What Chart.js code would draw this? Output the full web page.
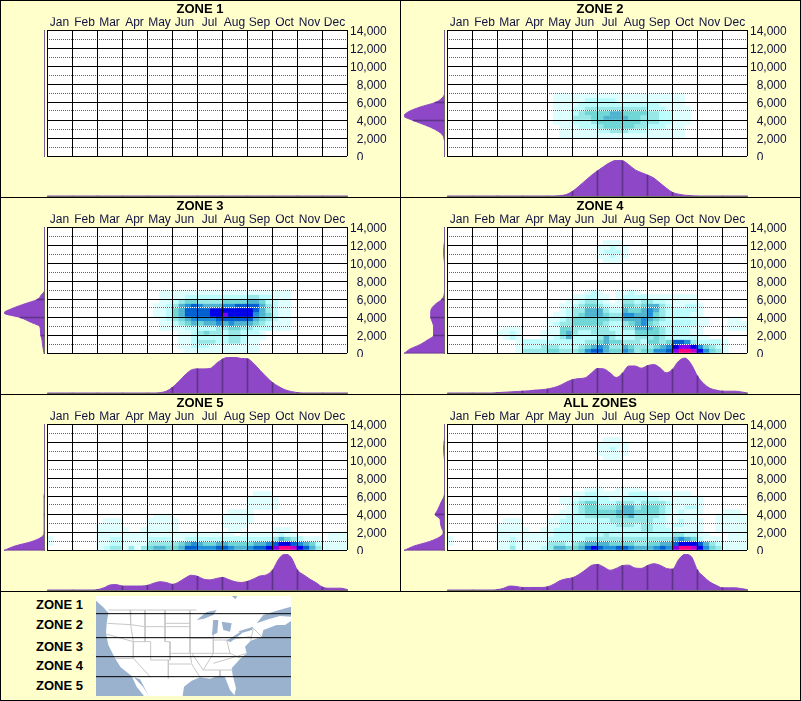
<!DOCTYPE html>
<html>
<head>
<meta charset="utf-8">
<title>Zones by month</title>
<script src="https://cdn.jsdelivr.net/npm/chart.js@4"></script>
<style>
  html, body { margin: 0; padding: 0; background: #fff; }
  #page { position: relative; width: 801px; height: 701px; background: #FFFFCC; overflow: hidden; font-family: "Liberation Sans", Arial, sans-serif; }
  #page canvas { position: absolute; }
  .rule { position: absolute; background: #000; }
  .zoneName { position: absolute; left: 36px; font: bold 13px "Liberation Sans", Arial, sans-serif; color: #000; line-height: 14px; }
</style>
</head>
<body>
<div id="page"></div>
<script>
const months = ['Jan', 'Feb', 'Mar', 'Apr', 'May', 'Jun', 'Jul', 'Aug', 'Sep', 'Oct', 'Nov', 'Dec'];
const zoneTitles = ['ZONE 1', 'ZONE 2', 'ZONE 3', 'ZONE 4', 'ZONE 5', 'ALL ZONES'];
const legendNames = ['ZONE 1', 'ZONE 2', 'ZONE 3', 'ZONE 4', 'ZONE 5'];
const legendTops = [598, 618, 640, 659, 679];

// heat levels, 0 is empty
const heatColors = ['', '#DFFFFF', '#BCFCFC', '#98E8E8', '#70D6D6', '#50B4D0', '#2090D8', '#0060D0', '#0000E8', '#8000F0', '#C000C8', '#FF0080'];

// one string per 500 band, bottom band first, 4 cells per month
const heatZone1 = [];
const heatZone2 = [
  '', '', '', '',
  '0000 0000 0000 0000 0011 1111 1111 1111 1111 1100 0000 0000',
  '0000 0000 0000 0000 0011 1111 2233 3222 1111 1100 0000 0000',
  '0000 0000 0000 0000 0011 1222 3444 4433 2221 1100 0000 0000',
  '0000 0000 0000 0000 0111 2223 4444 4443 3322 1110 0000 0000',
  '0000 0000 0000 0000 0111 3334 4555 5443 3322 1110 0000 0000',
  '0000 0000 0000 0000 0111 2344 4455 4444 3322 1110 0000 0000',
  '0000 0000 0000 0000 0111 2233 3333 3333 2221 1110 0000 0000',
  '0000 0000 0000 0000 0111 1222 2222 2222 2211 1100 0000 0000',
  '0000 0000 0000 0000 0111 1122 2221 1111 1111 1100 0000 0000',
  '0000 0000 0000 0000 0111 1111 1111 1111 1111 1100 0000 0000'
];
const heatZone3 = [
  '0000 0000 0000 0000 0000 0011 1111 1111 1100 0000 0000 0000',
  '0000 0000 0000 0000 0000 0112 2211 1111 1100 0000 0000 0000',
  '0000 0000 0000 0000 0000 0112 3332 2332 1100 0000 0000 0000',
  '0000 0000 0000 0000 0000 0112 2222 2332 1110 0000 0000 0000',
  '0000 0000 0000 0000 0000 0112 3433 2332 2210 0000 0000 0000',
  '0000 0000 0000 0000 0011 1122 2223 3443 3222 1110 0000 0000',
  '0000 0000 0000 0000 0011 2345 4556 5655 5432 1110 0000 0000',
  '0000 0000 0000 0000 0012 3456 6667 7777 7543 2110 0000 0000',
  '0000 0000 0000 0000 0112 4577 7788 9888 8654 2110 0000 0000',
  '0000 0000 0000 0000 0112 4577 7788 8888 8753 2110 0000 0000',
  '0000 0000 0000 0000 0112 3567 6555 6677 7753 2110 0000 0000',
  '0000 0000 0000 0000 0011 2344 3333 4444 5542 2110 0000 0000',
  '0000 0000 0000 0000 0011 1122 2222 2222 3322 1110 0000 0000',
  '0000 0000 0000 0000 0011 1111 1111 1111 1111 1110 0000 0000'
];
const heatZone4 = [
  '0000 0000 0001 3333 4433 3467 7544 6534 4667 9BBA 8643 1000',
  '0000 0000 0001 2223 3322 2345 6533 5433 3456 8998 6432 1000',
  '0000 0000 0001 2222 2222 2233 4544 3332 4434 7763 2222 1000',
  '0000 0000 0121 0001 1235 2222 3532 2233 3432 2222 1100 0000',
  '0000 0000 1121 0001 1145 3223 3332 2244 4432 2221 1000 0000',
  '0000 0000 0111 0000 1144 3333 3322 3355 5432 2221 1000 0111',
  '0000 0000 0000 0000 1233 4444 4322 3456 4322 2222 1100 0111',
  '0000 0000 0000 0000 1123 4444 4433 5556 5432 2222 1100 0110',
  '0000 0000 0000 0000 0112 3455 5433 6655 6432 2221 1000 0000',
  '0000 0000 0000 0000 0012 3355 5322 5445 6532 2222 1000 0000',
  '0000 0000 0000 0000 0011 2344 3211 4434 5532 1122 1000 0000',
  '0000 0000 0000 0000 0001 1233 2101 3323 3221 1111 0000 0000',
  '0000 0000 0000 0000 0000 1122 1101 2222 1111 1111 0000 0000',
  '0000 0000 0000 0000 0000 0012 1001 1210 0000 0000 0000 0000',
  '', '', '', '', '', '',
  '0000 0000 0000 0000 0000 0000 0111 0000 0000 0000 0000 0000',
  '0000 0000 0000 0000 0000 0000 1121 1000 0000 0000 0000 0000',
  '0000 0000 0000 0000 0000 0000 1222 1000 0000 0000 0000 0000',
  '0000 0000 0000 0000 0000 0000 1121 1000 0000 0000 0000 0000',
  '0000 0000 0000 0000 0000 0000 0111 0000 0000 0000 0000 0000'
];
const heatZone5 = [
  '0000 0000 1233 1313 4554 4577 6667 7655 6778 9BBA 8753 1111',
  '1000 0000 1122 1111 3333 3456 5445 5444 4556 7887 6542 1111',
  '1000 0000 1122 1111 2222 1122 2222 2222 2222 3543 2111 0111',
  '0000 0000 1111 1111 1111 1111 1111 1101 1111 1211 0000 0111',
  '0000 0000 1111 1001 1111 1000 0000 0110 0000 1110 0000 0000',
  '0000 0000 1111 0000 1111 1000 0000 1111 0000 0000 0000 0000',
  '0000 0000 0111 0000 1111 1000 0000 1111 1000 0000 0000 0000',
  '0000 0000 0000 0000 0111 0000 0000 1111 1000 0000 0000 0000',
  '0000 0000 0000 0000 0000 0000 0000 0111 1000 0000 0000 0000',
  '0000 0000 0000 0000 0000 0000 0000 0000 1111 1000 0000 0000',
  '0000 0000 0000 0000 0000 0000 0000 0000 1111 1000 0000 0000',
  '0000 0000 0000 0000 0000 0000 0000 0000 1111 1000 0000 0000',
  '0000 0000 0000 0000 0000 0000 0000 0000 0111 0000 0000 0000'
];
const heatAll = [
  '0000 0000 1131 1112 3554 4578 7667 7655 5676 9BBA 8643 1111',
  '1000 0000 1121 1111 3332 3455 5544 4433 4455 7888 7532 1111',
  '1000 0000 1121 1111 2222 2233 3333 3333 3333 5654 2111 0111',
  '0000 0000 1111 1111 1222 2222 2322 2222 2222 3322 1100 0111',
  '0000 0000 1111 1001 1222 2222 2222 2223 3222 1111 1001 1111',
  '0000 0000 1111 0000 1122 2222 2223 3323 3221 2211 1001 1111',
  '0000 0000 0111 0000 1122 2222 2233 3333 3221 1211 1001 1111',
  '0000 0000 0000 0000 0112 2233 3334 4533 3321 1111 0001 1111',
  '0000 0000 0000 0000 0011 2344 4445 5544 4432 1211 1000 1110',
  '0000 0000 0000 0000 0001 2344 3334 5534 4432 1122 1000 0000',
  '0000 0000 0000 0000 0011 2344 2223 3323 3332 1111 1000 0000',
  '0000 0000 0000 0000 0011 1222 2211 2222 2211 1111 1000 0000',
  '0000 0000 0000 0000 0000 1122 1111 1222 1111 1110 0000 0000',
  '0000 0000 0000 0000 0000 0011 1001 1110 0000 0000 0000 0000',
  '', '', '', '', '', '',
  '0000 0000 0000 0000 0000 0000 0111 0000 0000 0000 0000 0000',
  '0000 0000 0000 0000 0000 0000 1111 1000 0000 0000 0000 0000',
  '0000 0000 0000 0000 0000 0000 1121 1000 0000 0000 0000 0000',
  '0000 0000 0000 0000 0000 0000 1111 1000 0000 0000 0000 0000',
  '0000 0000 0000 0000 0000 0000 0111 0000 0000 0000 0000 0000'
];

// month profile under each panel, 4 samples per month plus the last one
const monthProfile1 = [0,0,0,0, 0,0,0,0, 0,0,0,0, 0,0,0,0, 0,0,0,0, 0,0,0,0, 0,0,0,0, 0,0,0,0, 0,0,0,0, 0,0,0,0, 0,0,0,0, 0,0,0,0, 0];
const monthProfile2 = [0,0,0,0, 0,0,0,0, 0,0,0,0, 0,0,0,0, 0,0,1,4, 13,27,42,57, 70,82,93,99, 98,87,73,65, 58,50,36,22, 10,5,2,1, 0,0,0,0, 0,0,0,0, 0];
const monthProfile3 = [0,0,0,0, 0,0,0,0, 0,0,0,0, 0,0,0,0, 0,0,1,5, 16,32,50,64, 67,67,68,82, 94,100,99,96, 95,82,63,45, 29,18,9,4, 1,0,0,0, 0,0,0,0, 0];
const monthProfile4 = [0,0,0,0, 0,0,0,0, 1,2,3,4, 5,6,8,9, 11,15,21,30, 37,40,42,55, 68,67,56,43, 55,75,75,69, 76,79,70,56, 66,89,97,80, 47,26,13,8, 5,5,5,3, 0];
const monthProfile5 = [0,0,0,0, 0,0,0,0, 1,6,14,15, 11,11,11,11, 13,19,23,21, 16,22,33,41, 38,30,28,32, 35,29,23,21, 24,31,39,42, 55,86,100,90, 55,42,30,20, 8,5,5,5, 1];
const monthProfileAll = [0,0,0,0, 0,0,0,0, 1,5,11,10, 7,7,7,7, 9,16,26,31, 34,43,55,68, 71,64,55,60, 68,69,61,60, 68,73,69,60, 58,85,99,93, 55,37,22,13, 6,6,6,4, 1];

// height profile left of each panel, one sample per 500 from 0 up to 14,000
const heightProfile1 = [0,0,0,0,0, 0,0,0,0,0, 0,0,0,0,0, 0,0,0,0,0, 0,0,0,0,0, 0,0,0,0];
const heightProfile2 = [0,0,0,0,1, 7,23,48,77,100, 88,60,23,6,0, 0,0,0,0,0, 0,0,0,0,0, 0,0,0,0];
const heightProfile3 = [1,3,5,6,9, 10,12,35,60,100, 80,50,18,8,0, 0,0,0,0,0, 0,0,0,0,0, 0,0,0,0];
const heightProfile4 = [100,85,60,42,27, 27,27,30,34,34, 32,22,7,1,0, 0,0,0,0,0, 0,1,2,2,1, 0,0,0,0];
const heightProfile5 = [100,73,31,7,1, 1,1,1,1,1, 1,1,1,0,0, 0,0,0,0,0, 0,0,0,0,0, 0,0,0,0];
const heightProfileAll = [100,75,37,12,3, 7,10,11,23,17, 12,7,1,0,0, 0,0,0,0,0, 0,1,2,2,1, 0,0,0,0];

// map of the zones, in its own x/y units
const mapLand = [[288,18],[288,32],[310,52],[325,68],[320,100],[318,130],[325,165],[345,205],[362,232],[395,258],[410,290],[432,318],[548,318],[552,290],[575,272],[600,262],[630,266],[660,256],[675,262],[690,300],[703,316],[708,295],[698,255],[695,235],[722,205],[740,190],[735,170],[752,152],[785,140],[790,120],[830,105],[855,105],[873,93],[873,18],[288,18]];
const mapWaters = [
  [[402,262],[420,268],[445,315],[430,292],[402,262]],
  [[590,90],[620,66],[650,60],[640,75],[612,86],[590,90]],
  [[640,90],[655,90],[652,128],[636,136],[640,90]],
  [[665,95],[695,100],[690,125],[670,120],[665,95]],
  [[680,152],[720,126],[726,130],[692,156],[680,152]],
  [[716,124],[760,110],[756,120],[722,130],[716,124]],
  [[696,18],[712,18],[706,28],[696,18]],
  [[770,100],[790,75],[830,62],[873,50],[873,80],[840,78],[805,88],[770,100]]
];
const mapBorders = [
  [[325,60],[590,60]],
  [[322,100],[392,104],[435,110],[495,110],[495,155],[510,155],[510,210],[452,210],[452,155],[400,155],[400,205],[452,262]],
  [[390,60],[392,104],[400,155]],
  [[435,60],[435,155]],
  [[495,60],[495,110],[570,110]],
  [[495,100],[570,100]],
  [[570,60],[570,190],[575,220]],
  [[318,132],[400,155]],
  [[400,205],[345,205]],
  [[510,190],[640,190]],
  [[505,210],[505,265]],
  [[505,222],[575,222],[600,262]],
  [[570,145],[640,145],[640,90]],
  [[575,190],[610,240],[660,240],[660,256]],
  [[640,145],[640,190],[610,240]],
  [[640,150],[680,150],[690,190],[640,190]],
  [[690,190],[722,205]],
  [[640,220],[740,190]],
  [[660,240],[698,240]],
  [[680,150],[752,140]],
  [[752,152],[760,115]],
  [[760,115],[785,140]]
];
const mapZoneEdges = [71, 143, 200, 260];

const rowStep = 500;
const yTop = 14000;
const heights = [];
for (let i = 0; i < 29; i++) heights.push(i * rowStep);
const sampleLabels = monthProfile1.map((v, i) => i);
const cellLabels = [];
for (let i = 0; i < 48; i++) cellLabels.push(i);

const page = document.getElementById('page');
Chart.defaults.font.family = '"Liberation Sans", Arial, sans-serif';
Chart.defaults.font.size = 12;
Chart.defaults.animation = false;
Chart.defaults.responsive = false;
Chart.defaults.devicePixelRatio = 1;
Chart.defaults.plugins.legend.display = false;
Chart.defaults.plugins.tooltip.enabled = false;

const plotBg = {
  id: 'plotBg',
  beforeDraw(chart, args, opts) {
    const a = chart.chartArea;
    chart.ctx.fillStyle = opts.color;
    chart.ctx.fillRect(a.left, a.top, a.right - a.left, a.bottom - a.top);
  }
};

function addCanvas(left, top, w, h) {
  const c = document.createElement('canvas');
  c.width = w;
  c.height = h;
  c.style.left = left + 'px';
  c.style.top = top + 'px';
  page.appendChild(c);
  return c;
}

function addRule(left, top, w, h) {
  const d = document.createElement('div');
  d.className = 'rule';
  d.style.cssText = 'left:' + left + 'px;top:' + top + 'px;width:' + w + 'px;height:' + h + 'px';
  page.appendChild(d);
}

function heatDatasets(rows) {
  const out = [];
  for (let level = 1; level < heatColors.length; level++) {
    const cells = [];
    rows.forEach((row, r) => {
      row.replace(/ /g, '').split('').forEach((ch, col) => {
        if (parseInt(ch, 16) === level) cells.push({ x: col, y: [r * rowStep, (r + 1) * rowStep] });
      });
    });
    out.push({ data: cells, backgroundColor: heatColors[level], barPercentage: 1, categoryPercentage: 1, grouped: false });
  }
  return out;
}

function fixSize(s, w, h) {
  if (w !== null) s.width = w;
  if (h !== null) s.height = h;
  s.paddingTop = 0;
  s.paddingBottom = 0;
  s.paddingLeft = 0;
  s.paddingRight = 0;
}

function evenThousands(s) {
  const t = [];
  for (let v = 0; v <= yTop; v += 1000) t.push({ value: v });
  s.ticks = t;
}

function drawHeat(left, top, title, rows) {
  new Chart(addCanvas(left, top, 400, 160), {
    type: 'bar',
    data: { labels: cellLabels, datasets: heatDatasets(rows) },
    options: {
      layout: { padding: { left: 0, right: 0, top: 0, bottom: 4 } },
      plugins: {
        title: { display: true, text: title, color: '#000', font: { size: 13, weight: 'bold' }, padding: { top: 2, bottom: 0 } },
        plotBg: { color: '#fff' }
      },
      scales: {
        x: { display: false, offset: true, stacked: false },
        monthAxis: {
          type: 'category', axis: 'x', position: 'top', labels: months, offset: true,
          grid: { offset: true, color: '#000', lineWidth: 1, z: 3, drawTicks: false },
          border: { display: false },
          ticks: { color: '#101040', padding: 0, autoSkip: false, maxRotation: 0 },
          afterFit(s) { fixSize(s, null, 12.4); }
        },
        y: {
          position: 'right', min: 0, max: yTop,
          afterBuildTicks: evenThousands,
          grid: {
            z: 2, drawTicks: false,
            color: c => c.tick.value % 2000 === 0 ? '#000' : '#606060'
          },
          border: { display: false, dash: c => c.tick && c.tick.value % 2000 !== 0 ? [1, 1] : [] },
          ticks: {
            color: '#101040', padding: 0, crossAlign: 'far', autoSkip: false, labelOffset: 1.5,
            callback: v => v === 0 ? '0' + '\u00a0'.repeat(7) : v % 2000 === 0 ? v.toLocaleString('en-US') : ''
          },
          afterFit(s) { fixSize(s, 39.7, null); }
        },
        // left margin of the panel, also draws white under the dots of the dotted lines
        yUnder: {
          position: 'left', min: 0, max: yTop,
          afterBuildTicks: evenThousands,
          grid: { z: 1, drawTicks: false, color: c => c.tick.value % 2000 === 0 ? 'rgba(0,0,0,0)' : '#fff' },
          border: { display: false },
          ticks: { display: false },
          afterFit(s) { fixSize(s, 47, null); }
        },
        // right margin of the panel
        yMargin: {
          position: 'right', weight: 1, min: 0, max: yTop,
          grid: { display: false }, border: { display: false }, ticks: { display: false },
          afterFit(s) { fixSize(s, 13.3, null); }
        }
      }
    },
    plugins: [plotBg]
  });
}

function drawMonthProfile(left, top, values) {
  new Chart(addCanvas(left + 46, top + 160, 303, 37), {
    type: 'line',
    data: {
      labels: sampleLabels,
      datasets: [
        { type: 'bar', data: values.map((v, i) => i % 4 === 0 ? v : null), backgroundColor: '#5E3488', barThickness: 1, order: 0 },
        { data: values, borderColor: '#8E47C7', borderWidth: 1, backgroundColor: '#8E47C7', fill: 'origin', pointRadius: 0, cubicInterpolationMode: 'monotone', order: 1 }
      ]
    },
    options: {
      layout: { padding: { left: 1.5, right: 1.5, top: 0, bottom: 1 } },
      scales: {
        x: {
          offset: false, grid: { display: false, offset: false, drawTicks: false },
          border: { display: true, color: '#707060' }, ticks: { display: false },
          afterFit(s) { s.height = 0; }
        },
        y: { display: false, min: 0, max: 100 }
      }
    }
  });
}

function drawHeightProfile(left, top, values) {
  new Chart(addCanvas(left + 4, top + 29, 42, 129), {
    type: 'line',
    data: {
      labels: heights,
      datasets: [
        { type: 'bar', data: values.map((v, i) => i % 4 === 0 ? v : null), backgroundColor: '#5E3488', barThickness: 1, indexAxis: 'y', order: 0 },
        { data: values, indexAxis: 'y', borderColor: '#8E47C7', borderWidth: 1, backgroundColor: '#8E47C7', fill: 'origin', pointRadius: 0, cubicInterpolationMode: 'monotone', order: 1 }
      ]
    },
    options: {
      indexAxis: 'y',
      layout: { padding: { left: 0, right: 1.5, top: 1.5, bottom: 1.5 } },
      scales: {
        x: { display: false, type: 'linear', min: 0, max: 100, reverse: true, offset: false },
        y: {
          type: 'category', reverse: true, position: 'right', offset: false,
          grid: { display: false, offset: false, drawTicks: false },
          border: { display: true, color: '#707060' }, ticks: { display: false },
          afterFit(s) { s.width = 0; }
        }
      }
    }
  });
}

function drawPanel(col, row, title, rows, monthValues, heightValues) {
  const left = col * 400;
  const top = row * 197;
  drawMonthProfile(left, top, monthValues);
  drawHeightProfile(left, top, heightValues);
  drawHeat(left, top, title, rows);
}

function drawMap() {
  const pts = list => list.map(p => ({ x: p[0], y: p[1] }));
  const datasets = [];
  datasets.push({ data: pts(mapLand), backgroundColor: '#fff', borderColor: '#fff', borderWidth: 0, fill: 'shape' });
  mapBorders.forEach(b => datasets.push({ data: pts(b), borderColor: '#C8C8C8', borderWidth: 1, fill: false }));
  mapWaters.forEach(w => datasets.push({ data: pts(w), backgroundColor: '#9AB2CE', borderColor: '#9AB2CE', borderWidth: 0, fill: 'shape' }));
  mapZoneEdges.forEach(y => datasets.push({ data: [{ x: 288, y: y }, { x: 873, y: y }], borderColor: '#000', borderWidth: 1, fill: false }));
  datasets.forEach((d, i) => { d.showLine = true; d.pointRadius = 0; d.order = datasets.length - i; });
  new Chart(addCanvas(96, 596, 195, 100), {
    type: 'scatter',
    data: { datasets: datasets },
    options: {
      layout: { padding: 0 },
      plugins: { plotBg: { color: '#9AB2CE' } },
      scales: {
        x: { display: false, min: 288, max: 873 },
        y: { display: false, min: 18, max: 318, reverse: true }
      }
    },
    plugins: [plotBg]
  });
}

drawPanel(0, 0, zoneTitles[0], heatZone1, monthProfile1, heightProfile1);
drawPanel(1, 0, zoneTitles[1], heatZone2, monthProfile2, heightProfile2);
drawPanel(0, 1, zoneTitles[2], heatZone3, monthProfile3, heightProfile3);
drawPanel(1, 1, zoneTitles[3], heatZone4, monthProfile4, heightProfile4);
drawPanel(0, 2, zoneTitles[4], heatZone5, monthProfile5, heightProfile5);
drawPanel(1, 2, zoneTitles[5], heatAll, monthProfileAll, heightProfileAll);
drawMap();

legendNames.forEach((name, i) => {
  const s = document.createElement('div');
  s.className = 'zoneName';
  s.style.top = legendTops[i] + 'px';
  s.textContent = name;
  page.appendChild(s);
});

// frame of the panels
addRule(0, 0, 801, 1);
addRule(0, 197, 801, 1);
addRule(0, 394, 801, 1);
addRule(0, 591, 801, 1);
addRule(0, 700, 801, 1);
addRule(0, 0, 1, 701);
addRule(800, 0, 1, 701);
addRule(400, 0, 1, 591);
</script>
</body>
</html>
